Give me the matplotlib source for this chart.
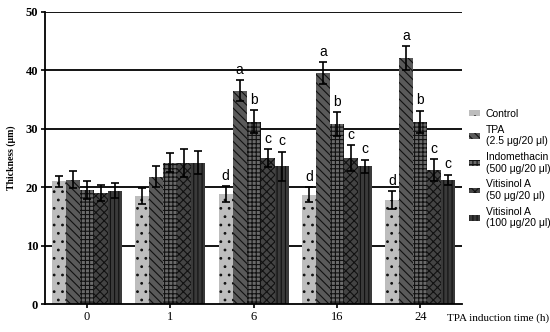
import numpy as np
import matplotlib
matplotlib.use('Agg')
import matplotlib.pyplot as plt
from matplotlib.patches import Patch

times = ['0', '1', '6', '16', '24']
groups = ['Control', 'TPA\n(2.5 \u03bcg/20 \u03bcl)', 'Indomethacin\n(500 \u03bcg/20 \u03bcl)',
          'Vitisinol A\n(50 \u03bcg/20 \u03bcl)', 'Vitisinol A\n(100 \u03bcg/20 \u03bcl)']

control = [21.0, 18.5, 18.8, 18.7, 17.8]
tpa = [21.3, 21.8, 36.5, 39.5, 42.1]
indo = [19.5, 24.2, 31.2, 30.8, 31.2]
vit50 = [19.0, 24.2, 25.0, 25.0, 22.9]
vit100 = [19.4, 24.2, 23.6, 23.6, 21.2]

control_err = [1.0, 1.3, 1.4, 1.3, 1.5]
tpa_err = [1.5, 1.8, 1.8, 1.9, 2.0]
indo_err = [1.5, 1.6, 2.0, 2.0, 1.9]
vit50_err = [1.3, 2.4, 1.5, 2.2, 1.9]
vit100_err = [1.3, 2.0, 2.5, 1.1, 0.9]

# significance letters, shown for 6, 16 and 24 h
letter_times = [2, 3, 4]
sig = ['d', 'a', 'b', 'c', 'c']

values = [control, tpa, indo, vit50, vit100]
errors = [control_err, tpa_err, indo_err, vit50_err, vit100_err]

styles = [
    dict(facecolor='#bdbdbd', hatch='..'),
    dict(facecolor='#5a5a5a', hatch='\\\\\\\\'),
    dict(facecolor='#6a6a6a', hatch='++++'),
    dict(facecolor='#444444', hatch='xxxx'),
    dict(facecolor='#3a3a3a', hatch='||||'),
]

plt.rcParams['hatch.linewidth'] = 0.8
fig = plt.figure(figsize=(5.5, 3.32), dpi=100)
ax = fig.add_axes([0.082, 0.084, 0.758, 0.88])

x = np.arange(len(times))
w = 0.168
for i in range(5):
    pos = x + (i - 2) * w
    ax.bar(pos, values[i], w, color=styles[i]['facecolor'], hatch=styles[i]['hatch'],
           edgecolor='#111111', linewidth=0, zorder=2)
    ax.errorbar(pos, values[i], yerr=errors[i], fmt='none', ecolor='black',
                elinewidth=1.2, capsize=3, capthick=1.2, zorder=3)
    for t in letter_times:
        ax.text(pos[t], values[i][t] + errors[i][t] + 0.6, sig[i], ha='center',
                va='bottom', fontsize=10, family='Liberation Sans', zorder=4)

for yv in [10, 20, 30, 40, 50]:
    ax.axhline(yv, color='black', linewidth=1.3, zorder=1)

ax.set_xlim(-0.5, 4.5)
ax.set_ylim(0, 50)
ax.set_yticks([0, 10, 20, 30, 40, 50])
ax.set_xticks(x)
ax.set_xticklabels(times, family='Liberation Serif', fontsize=9)
for lab in ax.get_yticklabels():
    lab.set_family('Liberation Serif')
    lab.set_fontweight('bold')
    lab.set_fontsize(9)
ax.spines['top'].set_visible(False)
ax.spines['right'].set_visible(False)
ax.spines['left'].set_linewidth(1.3)
ax.spines['bottom'].set_linewidth(1.3)
ax.tick_params(axis='both', direction='out', length=3, width=1.2, pad=2)
ax.set_ylabel('Thickness (\u03bcm)', family='Liberation Serif', fontweight='bold',
              fontsize=7, labelpad=7)
fig.text(0.998, 0.042, 'TPA induction time (h)', ha='right', va='center',
         family='Liberation Serif', fontsize=8)

handles = [Patch(facecolor=s['facecolor'], hatch=s['hatch'], edgecolor='#111111',
                 linewidth=0) for s in styles]
leg = ax.legend(handles, groups, loc='upper left', bbox_to_anchor=(0.995, 0.70),
                frameon=False, prop={'family': 'Liberation Sans', 'size': 7.5},
                handlelength=1.0, handleheight=0.45, handletextpad=0.6,
                labelspacing=0.55)

fig.savefig('out.png', dpi=100)
